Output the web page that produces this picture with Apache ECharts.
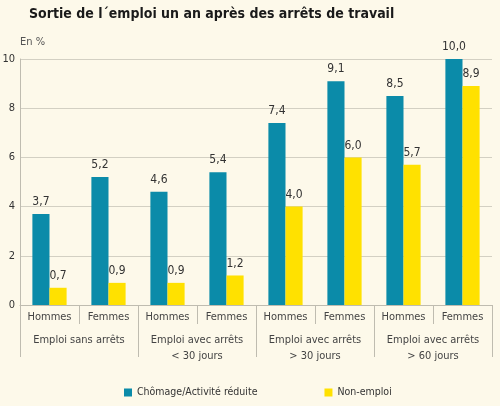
<!DOCTYPE html>
<html>
<head>
<meta charset="utf-8">
<script src="https://cdn.jsdelivr.net/npm/echarts@6/dist/echarts.min.js"></script>
<style>
  html, body { margin: 0; padding: 0; background: #fdf9ea; }
  #main { width: 500px; height: 406px; }
</style>
</head>
<body>
<div id="main"></div>
<script>
var sexes = ['Hommes', 'Femmes', 'Hommes', 'Femmes', 'Hommes', 'Femmes', 'Hommes', 'Femmes'];
var groups = ['Emploi sans arrêts', 'Emploi avec arrêts\n< 30 jours', 'Emploi avec arrêts\n> 30 jours', 'Emploi avec arrêts\n> 60 jours'];
var chomage = [3.7, 5.2, 4.6, 5.4, 7.4, 9.1, 8.5, 10.0];
var nonEmploi = [0.7, 0.9, 0.9, 1.2, 4.0, 6.0, 5.7, 8.9];

var font = '"DejaVu Sans Condensed", "Liberation Sans", sans-serif';
var lineCol = '#d3d0c3';
var tickCol = '#bfbcb0';

var myChart = echarts.init(document.getElementById('main'));

function fr(p) {
    return p.value.toFixed(1).replace('.', ',');
}

option = {
    backgroundColor: '#fdf9ea',
    textStyle: { fontFamily: font },
    title: {
        text: 'Sortie de l´emploi un an après des arrêts de travail',
        left: 24,
        top: 2,
        textStyle: { fontFamily: font, fontSize: 14, fontWeight: 'bold', color: '#1a1a1a' }
    },
    legend: {
        top: 382,
        left: 119,
        itemGap: 67,
        itemWidth: 8,
        itemHeight: 8,
        icon: 'rect',
        textStyle: { fontFamily: font, fontSize: 10.5, color: '#333' },
        data: ['Chômage/Activité réduite', 'Non-emploi']
    },
    grid: {
        left: 20,
        right: 8,
        top: 59,
        bottom: 101,
        outerBoundsMode: 'none'
    },
    xAxis: [
        {
            type: 'category',
            data: sexes,
            axisLine: { lineStyle: { color: tickCol } },
            axisTick: { show: true, length: 19, lineStyle: { color: tickCol, width: 1 } },
            axisLabel: { interval: 0, margin: 7, fontFamily: font, fontSize: 11, color: '#444' }
        },
        {
            type: 'category',
            data: groups,
            position: 'bottom',
            axisLine: { show: false },
            axisTick: { show: true, length: 52, lineStyle: { color: tickCol, width: 1 } },
            axisLabel: { interval: 0, margin: 27, fontFamily: font, fontSize: 11, color: '#444', lineHeight: 16 }
        }
    ],
    yAxis: {
        type: 'value',
        min: 0,
        max: 10,
        interval: 2,
        name: 'En %',
        nameLocation: 'end',
        nameGap: 11,
        nameTextStyle: { align: 'left', fontFamily: font, fontSize: 11, color: '#555' },
        axisLine: { show: true, lineStyle: { color: tickCol } },
        axisTick: { show: false },
        splitLine: { lineStyle: { color: lineCol } },
        axisLabel: { margin: 5, fontFamily: font, fontSize: 11, color: '#333' }
    },
    series: [
        {
            name: 'Chômage/Activité réduite',
            type: 'bar',
            barGap: '0%',
            barCategoryGap: '42%',
            itemStyle: { color: '#0b8ba9' },
            label: { show: true, position: 'top', distance: 6, formatter: fr, fontFamily: font, fontSize: 12, color: '#333' },
            data: chomage
        },
        {
            name: 'Non-emploi',
            type: 'bar',
            itemStyle: { color: '#ffe100' },
            label: { show: true, position: 'top', distance: 6, formatter: fr, fontFamily: font, fontSize: 12, color: '#333' },
            data: nonEmploi
        }
    ]
};

myChart.setOption(option);
</script>
</body>
</html>
